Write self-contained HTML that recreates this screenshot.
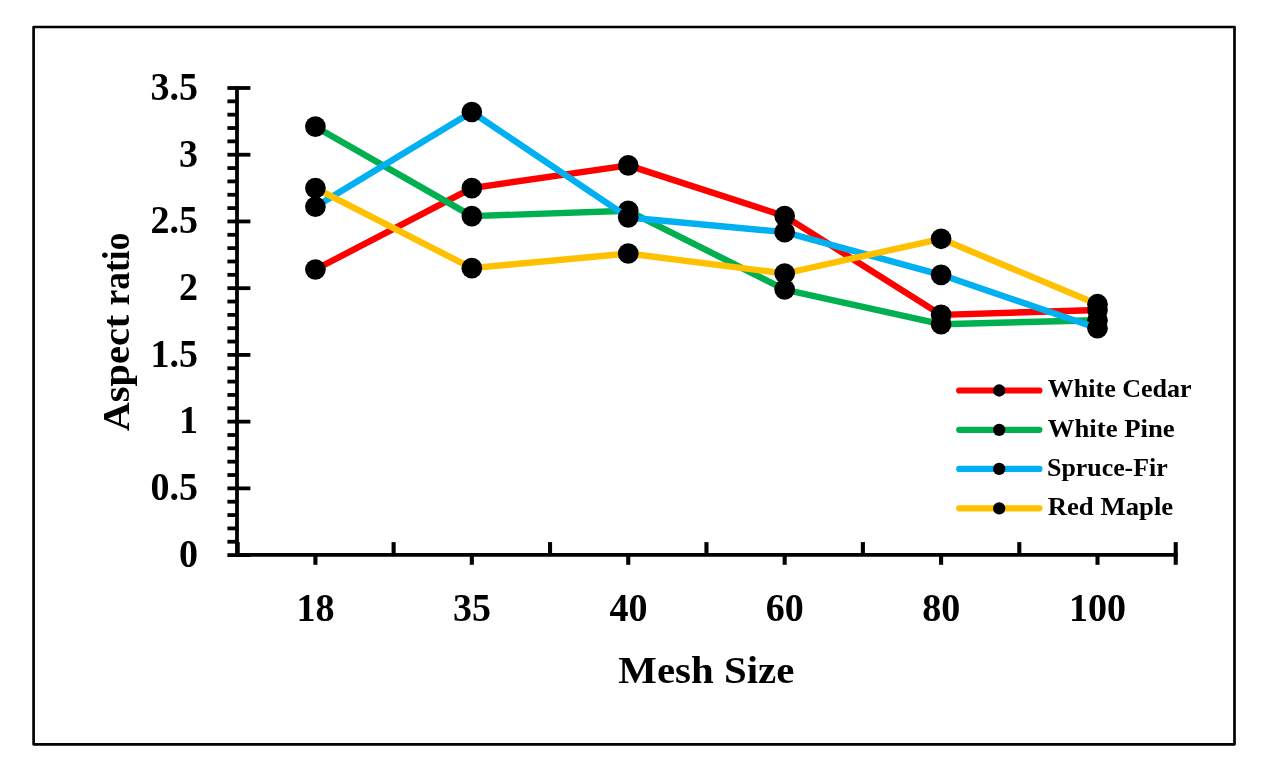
<!DOCTYPE html>
<html lang="en">
<head>
<meta charset="utf-8">
<title>Aspect ratio vs Mesh Size</title>
<style>
html,body{margin:0;padding:0;background:#fff;}
body{width:1271px;height:770px;overflow:hidden;}
svg{display:block;}
text{font-family:"Liberation Serif", serif;font-weight:bold;fill:#000;}
</style>
</head>
<body>
<svg width="1271" height="770" viewBox="0 0 1271 770">
<rect x="0" y="0" width="1271" height="770" fill="#ffffff"/>
<rect x="33.6" y="27.0" width="1200.9" height="717.3" fill="none" stroke="#000" stroke-width="2.7" stroke-linejoin="round"/>
<g stroke="#000" stroke-width="3.8" fill="none">
<line x1="237.0" y1="86.14" x2="237.0" y2="557.00"/>
<line x1="227.4" y1="555.10" x2="250.4" y2="555.10"/>
<line x1="227.4" y1="541.75" x2="237.0" y2="541.75"/>
<line x1="227.4" y1="528.41" x2="237.0" y2="528.41"/>
<line x1="227.4" y1="515.06" x2="237.0" y2="515.06"/>
<line x1="227.4" y1="501.72" x2="237.0" y2="501.72"/>
<line x1="227.4" y1="488.37" x2="250.4" y2="488.37"/>
<line x1="227.4" y1="475.02" x2="237.0" y2="475.02"/>
<line x1="227.4" y1="461.68" x2="237.0" y2="461.68"/>
<line x1="227.4" y1="448.33" x2="237.0" y2="448.33"/>
<line x1="227.4" y1="434.99" x2="237.0" y2="434.99"/>
<line x1="227.4" y1="421.64" x2="250.4" y2="421.64"/>
<line x1="227.4" y1="408.29" x2="237.0" y2="408.29"/>
<line x1="227.4" y1="394.95" x2="237.0" y2="394.95"/>
<line x1="227.4" y1="381.60" x2="237.0" y2="381.60"/>
<line x1="227.4" y1="368.26" x2="237.0" y2="368.26"/>
<line x1="227.4" y1="354.91" x2="250.4" y2="354.91"/>
<line x1="227.4" y1="341.56" x2="237.0" y2="341.56"/>
<line x1="227.4" y1="328.22" x2="237.0" y2="328.22"/>
<line x1="227.4" y1="314.87" x2="237.0" y2="314.87"/>
<line x1="227.4" y1="301.53" x2="237.0" y2="301.53"/>
<line x1="227.4" y1="288.18" x2="250.4" y2="288.18"/>
<line x1="227.4" y1="274.83" x2="237.0" y2="274.83"/>
<line x1="227.4" y1="261.49" x2="237.0" y2="261.49"/>
<line x1="227.4" y1="248.14" x2="237.0" y2="248.14"/>
<line x1="227.4" y1="234.80" x2="237.0" y2="234.80"/>
<line x1="227.4" y1="221.45" x2="250.4" y2="221.45"/>
<line x1="227.4" y1="208.10" x2="237.0" y2="208.10"/>
<line x1="227.4" y1="194.76" x2="237.0" y2="194.76"/>
<line x1="227.4" y1="181.41" x2="237.0" y2="181.41"/>
<line x1="227.4" y1="168.07" x2="237.0" y2="168.07"/>
<line x1="227.4" y1="154.72" x2="250.4" y2="154.72"/>
<line x1="227.4" y1="141.37" x2="237.0" y2="141.37"/>
<line x1="227.4" y1="128.03" x2="237.0" y2="128.03"/>
<line x1="227.4" y1="114.68" x2="237.0" y2="114.68"/>
<line x1="227.4" y1="101.34" x2="237.0" y2="101.34"/>
<line x1="227.4" y1="87.99" x2="250.4" y2="87.99"/>
</g>
<g stroke="#000" stroke-width="3.7" fill="none">
<line x1="237.0" y1="554.9" x2="1177.72" y2="554.9"/>
</g>
<g stroke="#000" stroke-width="4.1" fill="none">
<line x1="315.41" y1="554.9" x2="315.41" y2="564.8"/>
<line x1="471.83" y1="554.9" x2="471.83" y2="564.8"/>
<line x1="628.25" y1="554.9" x2="628.25" y2="564.8"/>
<line x1="784.67" y1="554.9" x2="784.67" y2="564.8"/>
<line x1="941.09" y1="554.9" x2="941.09" y2="564.8"/>
<line x1="1097.51" y1="554.9" x2="1097.51" y2="564.8"/>
<line x1="237.70" y1="542.1" x2="237.70" y2="554.9"/>
<line x1="393.62" y1="542.1" x2="393.62" y2="554.9"/>
<line x1="550.04" y1="542.1" x2="550.04" y2="554.9"/>
<line x1="706.46" y1="542.1" x2="706.46" y2="554.9"/>
<line x1="862.88" y1="542.1" x2="862.88" y2="554.9"/>
<line x1="1019.30" y1="542.1" x2="1019.30" y2="554.9"/>
<line x1="1175.72" y1="542.1" x2="1175.72" y2="564.8"/>
</g>
<g>
<polyline points="315.41,269.50 471.83,188.08 628.25,165.40 784.67,216.11 941.09,314.87 1097.51,310.07" fill="none" stroke="#FF0000" stroke-width="6.4" stroke-linejoin="round" stroke-linecap="round"/>
<circle cx="315.41" cy="269.50" r="10.35" fill="#000"/>
<circle cx="471.83" cy="188.08" r="10.35" fill="#000"/>
<circle cx="628.25" cy="165.40" r="10.35" fill="#000"/>
<circle cx="784.67" cy="216.11" r="10.35" fill="#000"/>
<circle cx="941.09" cy="314.87" r="10.35" fill="#000"/>
<circle cx="1097.51" cy="310.07" r="10.35" fill="#000"/>
</g>
<g>
<polyline points="315.41,126.69 471.83,216.11 628.25,210.77 784.67,289.51 941.09,324.21 1097.51,320.21" fill="none" stroke="#00B050" stroke-width="6.4" stroke-linejoin="round" stroke-linecap="round"/>
<circle cx="315.41" cy="126.69" r="10.35" fill="#000"/>
<circle cx="471.83" cy="216.11" r="10.35" fill="#000"/>
<circle cx="628.25" cy="210.77" r="10.35" fill="#000"/>
<circle cx="784.67" cy="289.51" r="10.35" fill="#000"/>
<circle cx="941.09" cy="324.21" r="10.35" fill="#000"/>
<circle cx="1097.51" cy="320.21" r="10.35" fill="#000"/>
</g>
<g>
<polyline points="315.41,206.77 471.83,112.01 628.25,217.45 784.67,232.13 941.09,274.83 1097.51,328.22" fill="none" stroke="#00B0F0" stroke-width="6.4" stroke-linejoin="round" stroke-linecap="round"/>
<circle cx="315.41" cy="206.77" r="10.35" fill="#000"/>
<circle cx="471.83" cy="112.01" r="10.35" fill="#000"/>
<circle cx="628.25" cy="217.45" r="10.35" fill="#000"/>
<circle cx="784.67" cy="232.13" r="10.35" fill="#000"/>
<circle cx="941.09" cy="274.83" r="10.35" fill="#000"/>
<circle cx="1097.51" cy="328.22" r="10.35" fill="#000"/>
</g>
<g>
<polyline points="315.41,188.08 471.83,268.16 628.25,253.48 784.67,273.50 941.09,238.80 1097.51,304.20" fill="none" stroke="#FFC000" stroke-width="6.4" stroke-linejoin="round" stroke-linecap="round"/>
<circle cx="315.41" cy="188.08" r="10.35" fill="#000"/>
<circle cx="471.83" cy="268.16" r="10.35" fill="#000"/>
<circle cx="628.25" cy="253.48" r="10.35" fill="#000"/>
<circle cx="784.67" cy="273.50" r="10.35" fill="#000"/>
<circle cx="941.09" cy="238.80" r="10.35" fill="#000"/>
<circle cx="1097.51" cy="304.20" r="10.35" fill="#000"/>
</g>
<line x1="959.2" y1="390.5" x2="1039.4" y2="390.5" stroke="#FF0000" stroke-width="6.2" stroke-linecap="round"/>
<circle cx="999.2" cy="390.5" r="6.15" fill="#000"/>
<text x="1047.7" y="397.4" font-size="25.2" textLength="144.0" lengthAdjust="spacingAndGlyphs">White Cedar</text>
<line x1="959.2" y1="429.8" x2="1039.4" y2="429.8" stroke="#00B050" stroke-width="6.2" stroke-linecap="round"/>
<circle cx="999.2" cy="429.8" r="6.15" fill="#000"/>
<text x="1047.7" y="436.7" font-size="25.2" textLength="127.0" lengthAdjust="spacingAndGlyphs">White Pine</text>
<line x1="959.2" y1="468.9" x2="1039.4" y2="468.9" stroke="#00B0F0" stroke-width="6.2" stroke-linecap="round"/>
<circle cx="999.2" cy="468.9" r="6.15" fill="#000"/>
<text x="1047.0" y="475.8" font-size="25.2" textLength="120.7" lengthAdjust="spacingAndGlyphs">Spruce-Fir</text>
<line x1="959.2" y1="508.3" x2="1039.4" y2="508.3" stroke="#FFC000" stroke-width="6.2" stroke-linecap="round"/>
<circle cx="999.2" cy="508.3" r="6.15" fill="#000"/>
<text x="1047.7" y="515.2" font-size="25.2" textLength="125.5" lengthAdjust="spacingAndGlyphs">Red Maple</text>
<text transform="translate(197.9,566.9) scale(0.975,1)" font-size="39" text-anchor="end">0</text>
<text transform="translate(197.9,500.2) scale(0.975,1)" font-size="39" text-anchor="end">0.5</text>
<text transform="translate(197.9,433.4) scale(0.975,1)" font-size="39" text-anchor="end">1</text>
<text transform="translate(197.9,366.7) scale(0.975,1)" font-size="39" text-anchor="end">1.5</text>
<text transform="translate(197.9,300.0) scale(0.975,1)" font-size="39" text-anchor="end">2</text>
<text transform="translate(197.9,233.2) scale(0.975,1)" font-size="39" text-anchor="end">2.5</text>
<text transform="translate(197.9,166.5) scale(0.975,1)" font-size="39" text-anchor="end">3</text>
<text transform="translate(197.9,99.8) scale(0.975,1)" font-size="39" text-anchor="end">3.5</text>
<text transform="translate(315.5,620.8) scale(0.975,1)" font-size="39" text-anchor="middle">18</text>
<text transform="translate(471.9,620.8) scale(0.975,1)" font-size="39" text-anchor="middle">35</text>
<text transform="translate(628.4,620.8) scale(0.975,1)" font-size="39" text-anchor="middle">40</text>
<text transform="translate(784.8,620.8) scale(0.975,1)" font-size="39" text-anchor="middle">60</text>
<text transform="translate(941.2,620.8) scale(0.975,1)" font-size="39" text-anchor="middle">80</text>
<text transform="translate(1097.6,620.8) scale(0.975,1)" font-size="39" text-anchor="middle">100</text>
<text x="706.3" y="683.3" font-size="38.5" text-anchor="middle" textLength="176" lengthAdjust="spacingAndGlyphs">Mesh Size</text>
<text transform="translate(128.9,431.3) rotate(-90)" font-size="38.6"><tspan x="0" y="0" textLength="116.6" lengthAdjust="spacingAndGlyphs">Aspect</tspan> <tspan x="125.9" y="0" textLength="72.8" lengthAdjust="spacingAndGlyphs">ratio</tspan></text>
</svg>
</body>
</html>
